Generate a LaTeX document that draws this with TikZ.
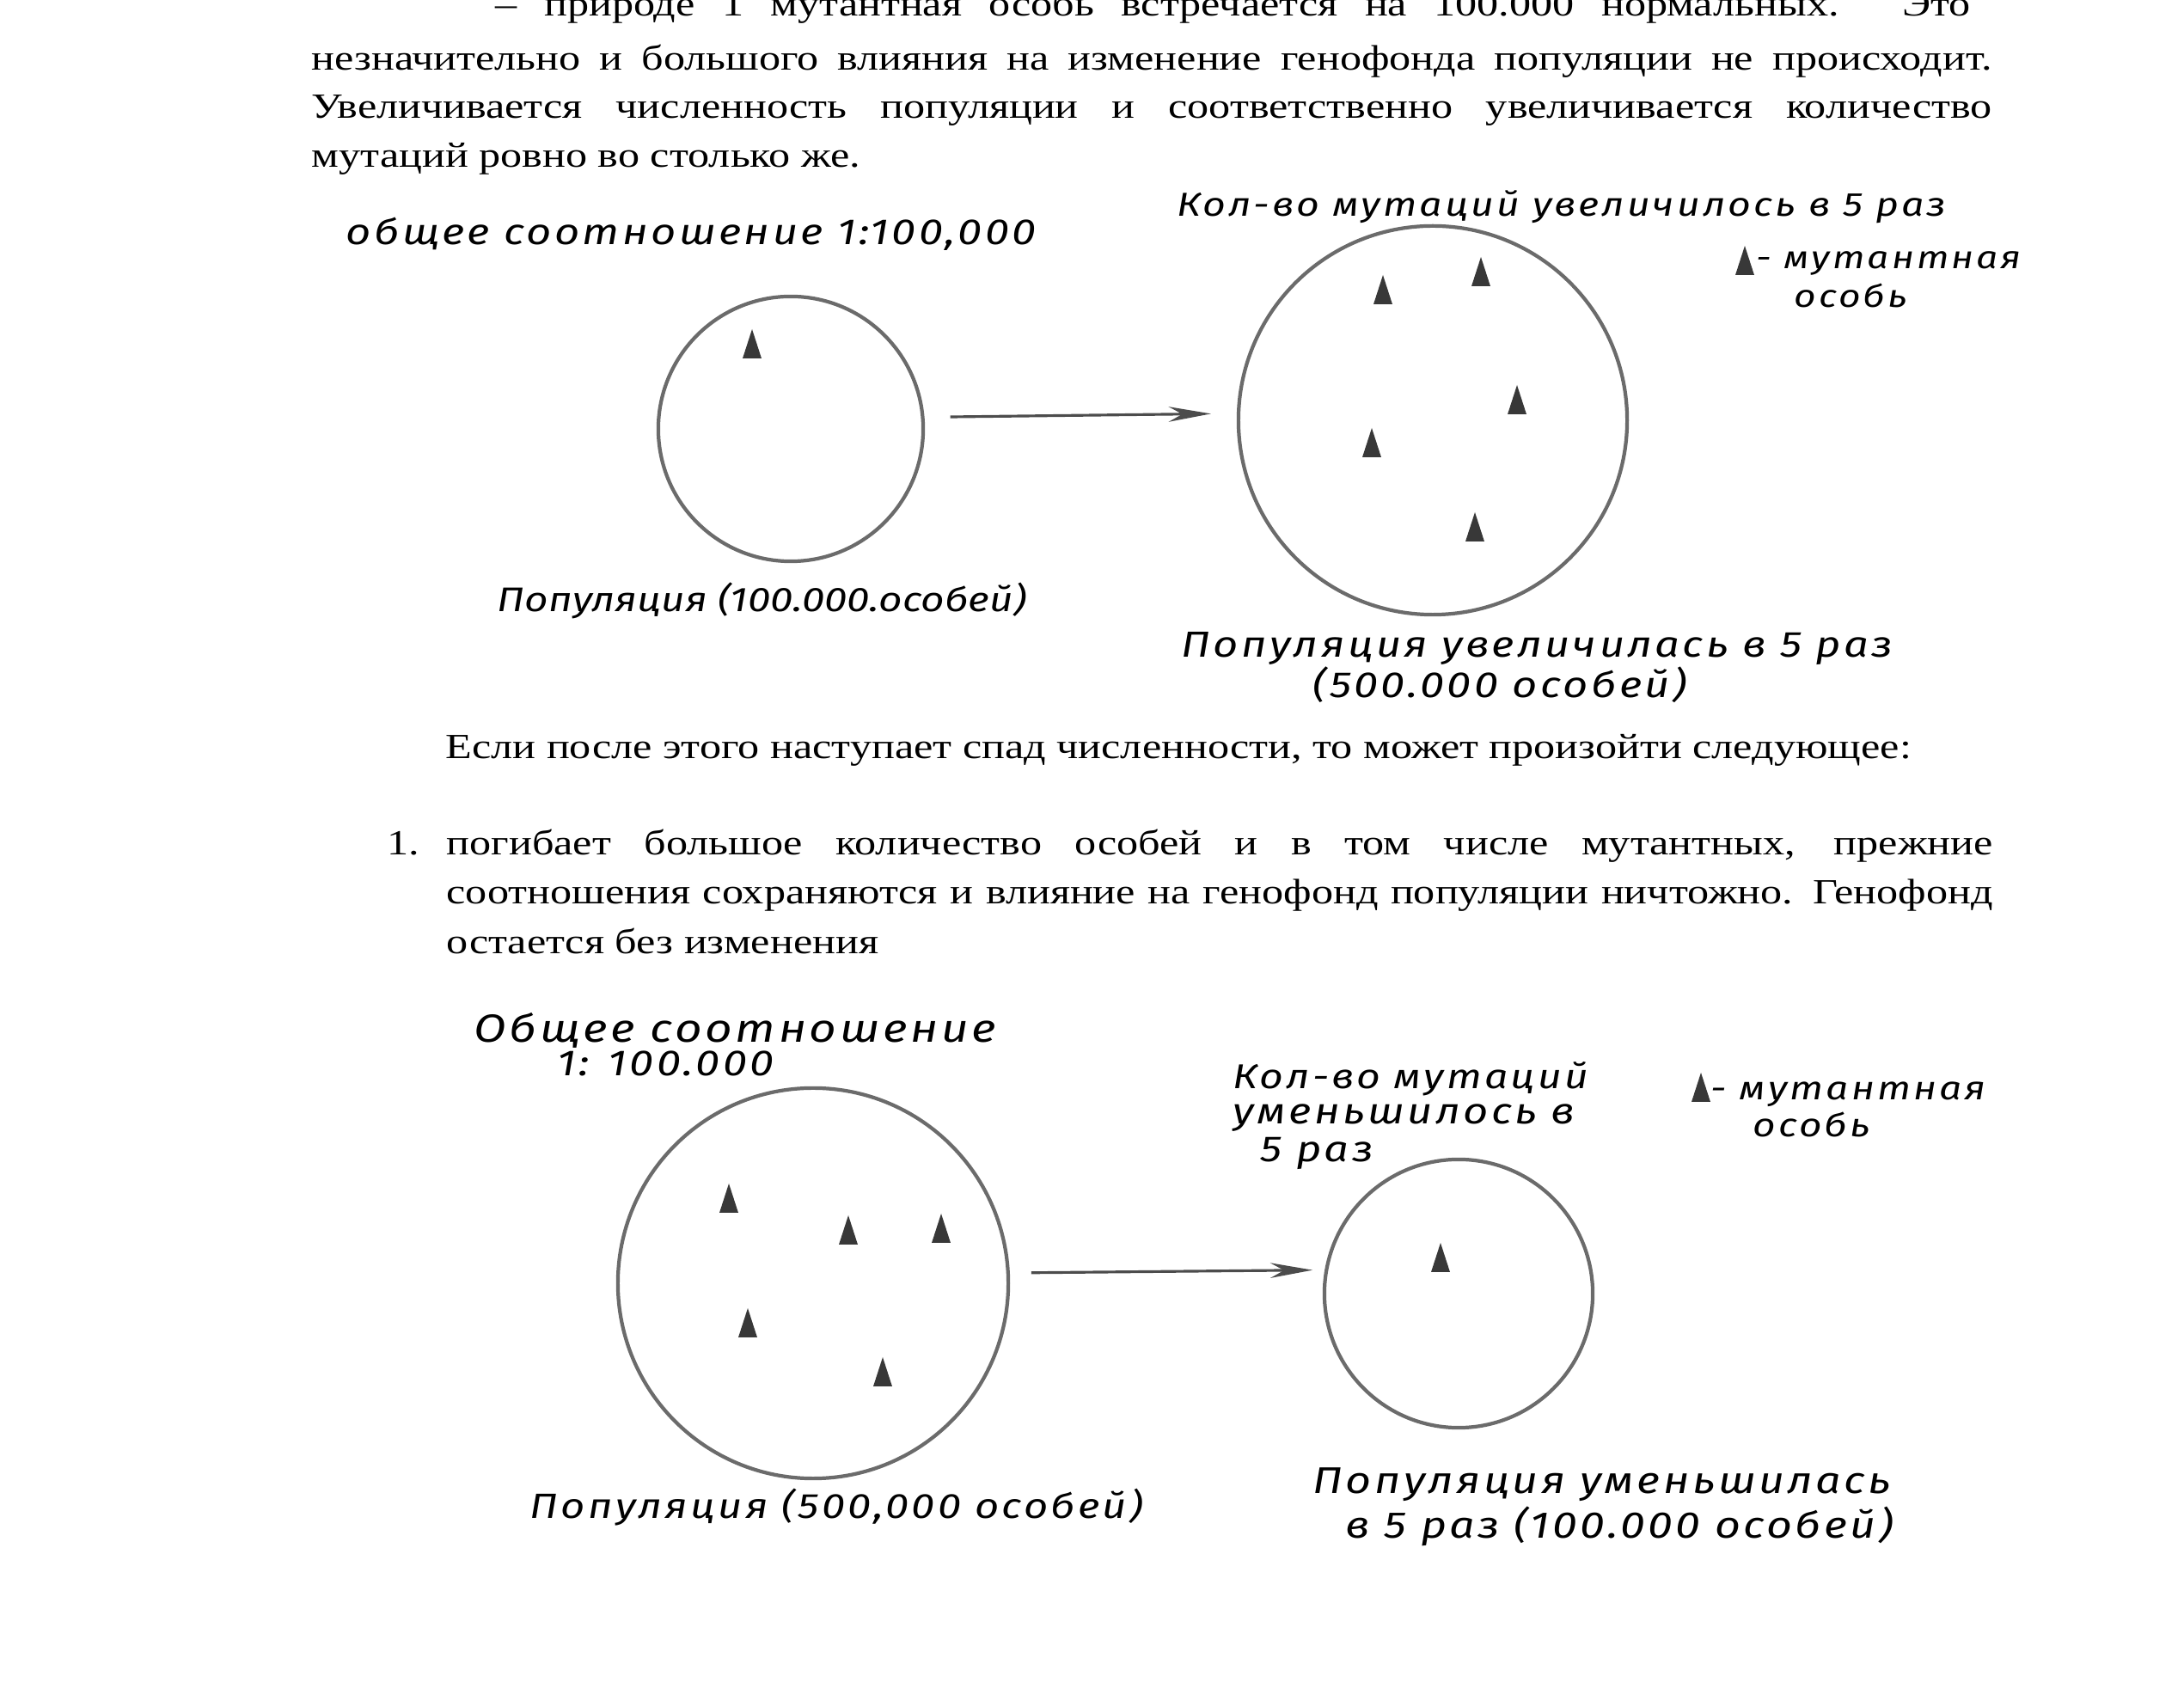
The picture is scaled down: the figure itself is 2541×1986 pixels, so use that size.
\documentclass[tikz,border=0pt]{standalone}
\usepackage{fontspec}
\setmainfont{Liberation Serif}[FakeStretch=1.22]
\newfontfamily\handfont{Fira Sans}[FakeStretch=1.2, LetterSpace=8]
\usetikzlibrary{arrows.meta}

\begin{document}
\begin{tikzpicture}[x=0.01cm, y=-0.01cm,
    body/.style={anchor=base west, inner sep=0pt, font=\fontsize{11.7}{16}\selectfont},
    hand/.style={anchor=base west, inner sep=0pt, font=\handfont\itshape\fontsize{#1}{14}\selectfont},
    hand/.default=12,
    pop/.style={circle, draw=black!58, line width=1.2pt, inner sep=0pt},
    popshift/.style={-{Stealth[length=14pt, width=5pt]}, line width=0.9pt, draw=black!70},
    mutant/.pic={\fill[black!78] (-11,17) -- (0,-17) -- (11,17) -- cycle;}]
    \useasboundingbox (0,0) rectangle (2541,1986);

    % paragraph above the first scheme
    \node (t1) at (576, 19) [body] {\makebox[17.15cm][s]{– природе 1 мутантная особь встречается на 100.000 нормальных. Это}};
    \node (t2) at (362, 82) [body] {\makebox[19.54cm][s]{незначительно и большого влияния на изменение генофонда популяции не происходит.}};
    \node (t3) at (362,138) [body] {\makebox[19.54cm][s]{Увеличивается численность популяции и соответственно увеличивается количество}};
    \node (t4) at (362,195) [body] {мутаций ровно во столько же.};

    % first scheme: growth
    \node (popA) at ( 920, 499) [pop, minimum size=3.08cm] {};
    \node (popB) at (1667, 489) [pop, minimum size=4.52cm] {};
    \draw[popshift, shorten <=0.3cm, shorten >=0.3cm] (popA.5) -- (popB.178);

    \pic at (875, 400) {mutant};
    \foreach \mx/\my in {1609/337, 1723/316, 1765/465, 1596/515, 1716/613}
        \pic at (\mx, \my) {mutant};

    \node (ratioA) at ( 402, 285) [hand] {общее соотношение 1:100,000};
    \node (countA) at (1369, 252) [hand=11] {Кол-во мутаций увеличилось в 5 раз};
    \pic at (2030, 303) {mutant};
    \node (keyA1) at (2043, 313) [hand=10.5] {- мутантная};
    \node (keyA2) at (2087, 358) [hand=10.5] {особь};
    \node (sizeA) at ( 578, 712) [hand=11.3] {\addfontfeature{LetterSpace=0}Популяция (100.000.особей)};
    \node (sizeB1) at (1374, 765) [hand] {Популяция увеличилась в 5 раз};
    \node (sizeB2) at (1527, 812) [hand] {(500.000 особей)};

    % text between the schemes
    \node (t5) at (518, 883) [body] {Если после этого наступает спад численности, то может произойти следующее:};
    \node (n1) at (450, 995) [body] {1.};
    \node (t6) at (519, 995) [body] {\makebox[17.98cm][s]{погибает большое количество особей и в том числе мутантных, прежние}};
    \node (t7) at (519,1052) [body] {\makebox[17.98cm][s]{соотношения сохраняются и влияние на генофонд популяции ничтожно. Генофонд}};
    \node (t8) at (519,1110) [body] {остается без изменения};

    % second scheme: decline
    \node (popC) at ( 946,1493) [pop, minimum size=4.54cm] {};
    \node (popD) at (1697,1505) [pop, minimum size=3.12cm] {};
    \draw[popshift, shorten <=0.25cm, shorten >=0.14cm] (popC.3) -- (popD.170);

    \foreach \mx/\my in {848/1394, 987/1431, 1095/1429, 870/1539, 1027/1596}
        \pic at (\mx, \my) {mutant};
    \pic at (1676, 1463) {mutant};

    \node (ratioC1) at ( 551,1213) [hand=13] {Общее соотношение};
    \node (ratioC2) at ( 648,1252) [hand] {1: 100.000};
    \node (countD1) at (1434,1267) [hand=11.4] {Кол-во мутаций};
    \node (countD2) at (1434,1308) [hand] {уменьшилось в};
    \node (countD3) at (1466,1352) [hand] {5 раз};
    \pic at (1979, 1265) {mutant};
    \node (keyD1) at (1990,1280) [hand=10.9] {- мутантная};
    \node (keyD2) at (2039,1323) [hand=10.9] {особь};
    \node (sizeC) at ( 616,1767) [hand=11.6] {Популяция (500,000 особей)};
    \node (sizeD1) at (1527,1738) [hand=12.3] {Популяция уменьшилась};
    \node (sizeD2) at (1565,1790) [hand=12.3] {в 5 раз (100.000 особей)};
\end{tikzpicture}
\end{document}
